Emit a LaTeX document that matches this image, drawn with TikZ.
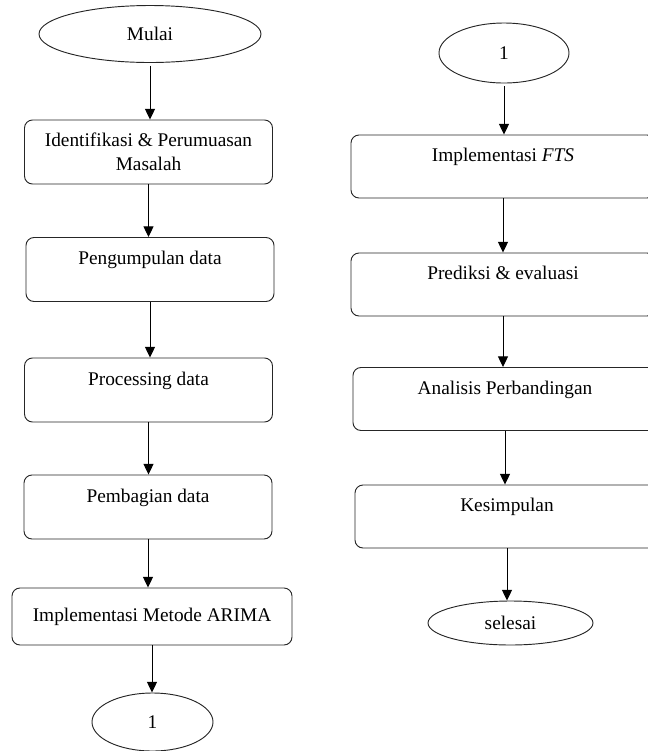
\documentclass[tikz,border=0pt]{standalone}
\usepackage{fontspec}
\setmainfont{Liberation Serif}
\usetikzlibrary{shapes.geometric,arrows.meta}

\newcommand{\kosong}{\\[-6pt]\strut}

\begin{document}
\begin{tikzpicture}[x=0.75pt, y=-0.75pt,
  every node/.style={font=\fontsize{14.5}{18}\selectfont, line width=0.7pt, draw=black!85},
  kotak/.style={draw, rounded corners=6pt, align=center, inner sep=0pt,
    minimum width=186pt, minimum height=48pt},
  kotakkanan/.style={kotak, minimum width=228pt, minimum height=47.25pt},
  oval/.style={draw, ellipse, inner sep=0pt},
  panah/.style={-{Triangle[width=7.5pt,length=8pt]}, line width=0.75pt}]

\useasboundingbox (0,0) rectangle (648,751);
\clip (0,0) rectangle (648,751);

% KOLOM KIRI
\node[oval, minimum width=166.5pt, minimum height=42.75pt] (mulai) at (150,34) {Mulai};
\node[kotak] (identifikasi) at (148.5,152) {Identifikasi \& Perumuasan\\Masalah};
\node[kotak] (kumpul) at (150,269.5) {Pengumpulan data\kosong};
\node[kotak] (proses) at (148.5,390) {Processing data\kosong};
\node[kotak] (bagi) at (148,507) {Pembagian data\kosong};
\node[kotak, minimum width=210pt, minimum height=42.75pt] (arima) at (152,616.5) {Implementasi Metode ARIMA};
\node[oval, minimum width=90.75pt, minimum height=43.5pt] (satuA) at (152.5,722) {1};

\draw[panah, shorten <=2pt] (mulai.south) -- (mulai.south |- identifikasi.north);
\draw[panah] (identifikasi.south) -- (identifikasi.south |- kumpul.north);
\draw[panah] (kumpul.south) -- (kumpul.south |- proses.north);
\draw[panah] (proses.south) -- (proses.south |- bagi.north);
\draw[panah] (bagi.south) -- (bagi.south |- arima.north);
\draw[panah] (arima.south) -- (arima.south |- satuA.north);

% KOLOM KANAN
\node[oval, minimum width=97.5pt, minimum height=45pt] (satuB) at (504,53) {1};
\node[kotakkanan] (fts) at (503,166.5) {Implementasi \textit{FTS}\kosong};
\node[kotakkanan] (prediksi) at (503,284.5) {Prediksi \& evaluasi\kosong};
\node[kotakkanan] (analisis) at (505,399) {Analisis Perbandingan\kosong};
\node[kotakkanan] (simpul) at (507,516.5) {Kesimpulan\kosong};
\node[oval, minimum width=123.75pt, minimum height=33pt] (selesai) at (510.5,623) {selesai};

\draw[panah, shorten <=2pt] (satuB.south) -- (satuB.south |- fts.north);
\draw[panah] (fts.south) -- (fts.south |- prediksi.north);
\draw[panah] (prediksi.south) -- (prediksi.south |- analisis.north);
\draw[panah] (analisis.south) -- (analisis.south |- simpul.north);
\draw[panah] (simpul.south) -- (simpul.south |- selesai.north);

\end{tikzpicture}
\end{document}
